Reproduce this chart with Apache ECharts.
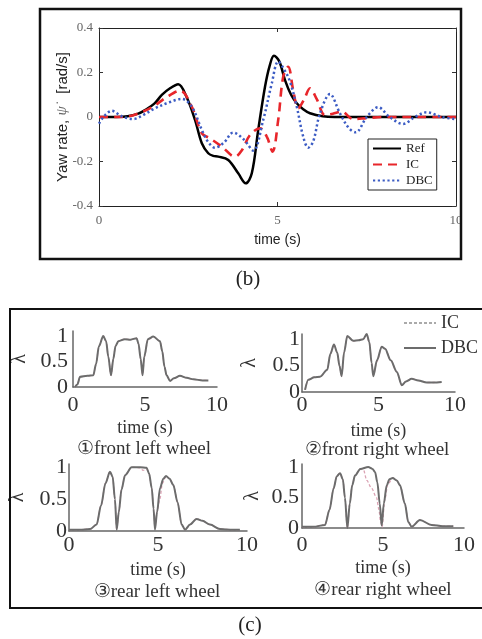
<!DOCTYPE html>
<html>
<head>
<meta charset="utf-8">
<script src="https://cdn.jsdelivr.net/npm/echarts@6/dist/echarts.min.js"></script>
<style>
html,body{margin:0;padding:0;background:#fff;}
#c{width:482px;height:639px;}
</style>
</head>
<body>
<div id="c"></div>
<script>
// ---------- (b) yaw rate ----------
const refT = [0, 0.5, 0.8, 1.1, 1.29, 1.55, 1.76, 2.0, 2.22, 2.45, 2.69, 2.88, 3.06, 3.2, 3.34, 3.62, 3.9, 4.11, 4.28, 4.46, 4.65, 4.78, 4.9, 5.05, 5.21, 5.38, 5.54, 5.72, 5.91, 6.27, 6.6, 7, 8, 9, 10];
const refV = [0, 0, 0.003, 0.015, 0.031, 0.06, 0.099, 0.13, 0.147, 0.091, -0.013, -0.118, -0.163, -0.175, -0.178, -0.193, -0.253, -0.298, -0.253, -0.058, 0.136, 0.23, 0.275, 0.25, 0.166, 0.1, 0.062, 0.035, 0.017, 0.003, 0, 0, 0, 0, 0];
const icT = [0, 0.5, 0.8, 1.1, 1.5, 1.9, 2.27, 2.6, 2.88, 3.11, 3.44, 3.81, 4.0, 4.23, 4.51, 4.70, 4.86, 5.02, 5.16, 5.3, 5.44, 5.58, 5.75, 5.91, 6.1, 6.33, 6.55, 6.8, 7.12, 7.5, 8, 9, 10];
const icV = [0, 0, 0.002, 0.016, 0.045, 0.09, 0.118, 0.046, -0.073, -0.096, -0.133, -0.178, -0.15, -0.081, -0.051, -0.088, -0.156, -0.013, 0.181, 0.226, 0.12, 0.039, 0.08, 0.129, 0.08, 0.009, 0.015, 0.024, -0.009, -0.005, 0, 0, 0];
const dbcT = [0, 0.15, 0.36, 0.55, 0.68, 0.96, 1.25, 1.57, 1.95, 2.32, 2.6, 2.88, 3.05, 3.25, 3.5, 3.76, 4.05, 4.32, 4.6, 4.84, 5.02, 5.2, 5.35, 5.54, 5.72, 5.86, 6.0, 6.19, 6.47, 6.75, 7.0, 7.19, 7.5, 7.82, 8.14, 8.52, 8.85, 9.18, 9.6, 10];
const dbcV = [-0.03, 0.005, 0.028, 0.012, 0, -0.009, 0.01, 0.039, 0.065, 0.081, 0.046, -0.058, -0.11, -0.138, -0.115, -0.07, -0.1, -0.151, -0.013, 0.151, 0.249, 0.21, 0.159, 0.046, -0.088, -0.138, -0.11, 0.016, 0.103, 0.016, -0.05, -0.069, 0, 0.044, 0, -0.031, 0, 0.021, 0, -0.01];
const yawTicks = [-0.4, -0.2, 0, 0.2, 0.4];
const timeTicks = [0, 5, 10];

// ---------- (c) wheel slip ----------
const w1T = [0.14, 0.3, 0.49, 1.0, 1.41, 1.6, 1.8, 2.1, 2.3, 2.45, 2.64, 2.8, 2.95, 3.15, 3.6, 4.0, 4.42, 4.55, 4.7, 4.83, 4.95, 5.2, 5.58, 6.04, 6.2, 6.35, 6.5, 6.74, 7.0, 7.43, 7.9, 8.36, 9.0, 9.4];
const w1Dbc = [0, 0.05, 0.2, 0.22, 0.23, 0.45, 0.8, 1.0, 0.9, 0.6, 0.23, 0.55, 0.8, 0.9, 0.94, 0.93, 0.96, 0.85, 0.55, 0.23, 0.6, 0.94, 0.99, 0.9, 0.7, 0.4, 0.23, 0.12, 0.17, 0.22, 0.18, 0.15, 0.13, 0.13];
const w1Ic = [0, 0.05, 0.2, 0.22, 0.23, 0.45, 0.8, 1.0, 0.9, 0.6, 0.23, 0.55, 0.8, 0.9, 0.94, 0.93, 0.96, 0.85, 0.55, 0.24, 0.58, 0.93, 0.99, 0.9, 0.7, 0.4, 0.23, 0.12, 0.17, 0.22, 0.18, 0.15, 0.13, 0.13];
const w2T = [0.2, 0.41, 0.8, 1.18, 1.65, 1.85, 2.09, 2.3, 2.45, 2.59, 2.75, 2.96, 3.35, 3.7, 4.0, 4.23, 4.4, 4.55, 4.66, 4.9, 5.21, 5.43, 5.8, 6.2, 6.52, 6.8, 7.17, 7.6, 8.15, 8.6, 9.13];
const w2Dbc = [0.04, 0.23, 0.28, 0.29, 0.42, 0.72, 0.9, 0.75, 0.5, 0.3, 0.75, 1.06, 0.97, 0.98, 1.0, 1.1, 0.95, 0.55, 0.3, 0.6, 0.86, 0.82, 0.6, 0.38, 0.13, 0.2, 0.25, 0.22, 0.18, 0.18, 0.19];
const w2Ic = [0.04, 0.23, 0.28, 0.29, 0.42, 0.72, 0.9, 0.75, 0.5, 0.3, 0.75, 1.06, 0.97, 0.98, 1.0, 1.08, 0.93, 0.55, 0.32, 0.58, 0.86, 0.82, 0.6, 0.38, 0.13, 0.2, 0.25, 0.22, 0.18, 0.18, 0.19];
const w3T = [0, 0.6, 1.18, 1.55, 1.8, 2.05, 2.3, 2.45, 2.58, 2.68, 2.8, 2.95, 3.15, 3.52, 4.0, 4.36, 4.5, 4.65, 4.75, 4.83, 4.95, 5.11, 5.3, 5.45, 5.65, 5.86, 6.1, 6.33, 6.52, 6.8, 7.17, 7.5, 7.92, 8.48, 9.2, 9.6];
const w3Dbc = [0.02, 0.02, 0.03, 0.1, 0.4, 0.75, 0.93, 0.85, 0.5, 0.02, 0.3, 0.65, 0.875, 1.0, 1.0, 0.99, 0.9, 0.67, 0.35, 0.02, 0.3, 0.67, 0.82, 0.86, 0.82, 0.72, 0.45, 0.1, 0.02, 0.1, 0.19, 0.16, 0.1, 0.03, 0.02, 0.02];
const w3IcT = [0, 0.6, 1.18, 1.55, 1.8, 2.05, 2.3, 2.45, 2.58, 2.68, 2.8, 2.95, 3.15, 3.52, 4.0, 4.16, 4.36, 4.5, 4.65, 4.75, 4.83, 4.95, 5.1, 5.25, 5.45, 5.65, 5.86, 6.1, 6.33, 6.52, 6.8, 7.17, 7.5, 7.92, 8.48, 9.2, 9.6];
const w3Ic = [0.02, 0.02, 0.03, 0.1, 0.4, 0.75, 0.93, 0.85, 0.5, 0.02, 0.3, 0.65, 0.875, 1.0, 0.99, 0.95, 0.97, 0.9, 0.67, 0.35, 0.05, 0.3, 0.5, 0.75, 0.86, 0.82, 0.72, 0.45, 0.1, 0.02, 0.1, 0.19, 0.16, 0.1, 0.03, 0.02, 0.02];
const w4T = [0, 0.7, 1.42, 1.7, 1.95, 2.15, 2.35, 2.52, 2.65, 2.8, 2.95, 3.1, 3.27, 3.6, 4.09, 4.35, 4.51, 4.65, 4.8, 4.92, 5.05, 5.23, 5.4, 5.6, 5.85, 6.05, 6.35, 6.56, 6.77, 7.28, 8.0, 8.7, 9.34];
const w4Dbc = [0.02, 0.02, 0.05, 0.3, 0.65, 0.85, 0.9, 0.8, 0.5, 0.0, 0.4, 0.7, 0.86, 0.97, 1.0, 0.97, 0.92, 0.75, 0.4, 0.04, 0.4, 0.7, 0.8, 0.82, 0.78, 0.7, 0.4, 0.1, 0.02, 0.13, 0.05, 0.03, 0.03];
const w4IcT = [0, 0.7, 1.42, 1.7, 1.95, 2.15, 2.35, 2.52, 2.65, 2.8, 2.95, 3.1, 3.27, 3.6, 3.8, 4.0, 4.3, 4.6, 4.75, 4.85, 4.95, 5.1, 5.3, 5.6, 5.85, 6.05, 6.35, 6.56, 6.77, 7.28, 8.0, 8.7, 9.34];
const w4Ic = [0.02, 0.02, 0.05, 0.3, 0.65, 0.85, 0.9, 0.8, 0.5, 0.0, 0.4, 0.7, 0.86, 0.97, 0.95, 0.78, 0.65, 0.5, 0.3, 0.1, 0.02, 0.45, 0.72, 0.82, 0.78, 0.7, 0.4, 0.1, 0.02, 0.13, 0.05, 0.03, 0.03];
const slipTicks = [0, 0.5, 1];

const zip = (ts, vs) => ts.map((t, i) => [t, vs[i]]);

const SERIF = '"Liberation Serif", "Times New Roman", serif';
const SANS = '"Liberation Sans", Arial, sans-serif';

const chart = echarts.init(document.getElementById('c'), null, {renderer: 'canvas'});

const mainTick = {show: true, inside: true, length: 4, lineStyle: {color: '#333', width: 1}};
const mainLine = {show: true, onZero: false, lineStyle: {color: '#222', width: 1}};
const mainLabel = {fontFamily: SERIF, fontSize: 13, color: '#666'};

const xAxes = [
  {gridIndex: 0, type: 'value', min: 0, max: 10, interval: 5, position: 'bottom',
   axisLine: mainLine, axisTick: mainTick, splitLine: {show: false},
   axisLabel: Object.assign({margin: 8, formatter: v => timeTicks.includes(v) ? String(v) : ''}, mainLabel),
   name: 'time (s)', nameLocation: 'middle', nameGap: 27, nameMoveOverlap: false,
   nameTextStyle: {fontFamily: SANS, fontSize: 14, color: '#222'}},
  {gridIndex: 0, type: 'value', min: 0, max: 10, interval: 5, position: 'top',
   axisLine: mainLine, axisTick: mainTick, splitLine: {show: false}, axisLabel: {show: false}}
];
const yAxes = [
  {gridIndex: 0, type: 'value', min: -0.4, max: 0.4, interval: 0.2, position: 'left',
   axisLine: mainLine, axisTick: mainTick, splitLine: {show: false},
   axisLabel: Object.assign({margin: 6, formatter: v => {
     const t = yawTicks.find(k => Math.abs(k - v) < 1e-9);
     return t === undefined ? '' : String(t);
   }}, mainLabel),
   name: '{s|Yaw rate, }{p|ψ̇}{s|   [rad/s]}', nameLocation: 'middle', nameGap: 29, nameMoveOverlap: false,
   nameTextStyle: {rich: {
     s: {fontFamily: SANS, fontSize: 15, color: '#222'},
     p: {fontFamily: SERIF, fontStyle: 'italic', fontSize: 15, color: '#666'}
   }}},
  {gridIndex: 0, type: 'value', min: -0.4, max: 0.4, interval: 0.2, position: 'right',
   axisLine: mainLine, axisTick: mainTick, splitLine: {show: false}, axisLabel: {show: false}}
];

const grids = [
  {left: 99, top: 28, width: 357, height: 178},
  {left: 73, top: 331, width: 144, height: 56},
  {left: 302, top: 334, width: 153, height: 58},
  {left: 69, top: 464, width: 178, height: 67},
  {left: 302, top: 464, width: 162, height: 64}
];
const subCfg = [
  {ymax: 1.1, xMargin: 7, yMargin: 5, xGap: 32, lGap: 43},
  {ymax: 1.1, xMargin: 2, yMargin: 2, xGap: 30, lGap: 42},
  {ymax: 1.05, xMargin: 3, yMargin: 2, xGap: 30, lGap: 41},
  {ymax: 1.05, xMargin: 6, yMargin: 3, xGap: 31, lGap: 39}
];
const subLine = {show: true, onZero: false, lineStyle: {color: '#666', width: 1.5}};
const subLabel = {fontFamily: SERIF, fontSize: 22, color: '#333'};
subCfg.forEach((c, i) => {
  const g = i + 1;
  xAxes.push({gridIndex: g, type: 'value', min: 0, max: 10, interval: 5,
    axisLine: subLine, axisTick: {show: false}, splitLine: {show: false},
    axisLabel: Object.assign({margin: c.xMargin, formatter: v => timeTicks.includes(v) ? String(v) : ''}, subLabel),
    name: 'time (s)', nameLocation: 'middle', nameGap: c.xGap, nameMoveOverlap: false,
    nameTextStyle: {fontFamily: SERIF, fontSize: 18, color: '#333'}});
  yAxes.push({gridIndex: g, type: 'value', min: 0, max: c.ymax, interval: 0.5,
    axisLine: subLine, axisTick: {show: false}, splitLine: {show: false},
    axisLabel: Object.assign({margin: c.yMargin, formatter: v => {
      const t = slipTicks.find(k => Math.abs(k - v) < 1e-9);
      return t === undefined ? '' : String(t);
    }}, subLabel),
    name: 'λ', nameLocation: 'middle', nameGap: c.lGap, nameMoveOverlap: false,
    nameTextStyle: {fontFamily: SERIF, fontSize: 20, color: '#333'}});
});

const series = [
  {name: 'Ref', type: 'line', xAxisIndex: 0, yAxisIndex: 0, data: zip(refT, refV),
   smooth: 0.35, symbol: 'none', lineStyle: {color: '#000', width: 2.5}, itemStyle: {color: '#000'}},
  {name: 'IC', type: 'line', xAxisIndex: 0, yAxisIndex: 0, data: zip(icT, icV),
   smooth: 0.35, symbol: 'none', lineStyle: {color: '#e8262b', width: 2.6, type: [9, 6]}, itemStyle: {color: '#e8262b'}},
  {name: 'DBC', type: 'line', xAxisIndex: 0, yAxisIndex: 0, data: zip(dbcT, dbcV),
   smooth: 0.35, symbol: 'none', lineStyle: {color: '#3c5cc4', width: 2.5, type: [2.2, 2.6]}, itemStyle: {color: '#3c5cc4'}}
];
const wheels = [
  [w1T, w1Ic, w1T, w1Dbc],
  [w2T, w2Ic, w2T, w2Dbc],
  [w3IcT, w3Ic, w3T, w3Dbc],
  [w4IcT, w4Ic, w4T, w4Dbc]
];
wheels.forEach((w, i) => {
  series.push({name: 'IC_s', type: 'line', xAxisIndex: i + 2, yAxisIndex: i + 2, data: zip(w[0], w[1]),
    smooth: 0.3, smoothMonotone: 'x', symbol: 'none', lineStyle: {color: '#dba3b4', width: 1.3, type: [3, 2]}, itemStyle: {color: '#dba3b4'}});
  series.push({name: 'DBC_s', type: 'line', xAxisIndex: i + 2, yAxisIndex: i + 2, data: zip(w[2], w[3]),
    smooth: 0.3, smoothMonotone: 'x', symbol: 'none', lineStyle: {color: '#6c6c6c', width: 2}, itemStyle: {color: '#6c6c6c'}});
});

const captions = [
  ['①front left wheel', 144, 449],
  ['②front right wheel', 377, 450],
  ['③rear left wheel', 157, 592],
  ['④rear right wheel', 383, 590]
];

const graphic = [
  {type: 'rect', z: 99, shape: {x: 462.5, y: 0, width: 30, height: 300}, style: {fill: '#fff'}},
  {type: 'rect', z: 100, shape: {x: 40, y: 9, width: 421, height: 250}, style: {fill: 'transparent', stroke: '#111', lineWidth: 2.5}},
  {type: 'rect', z: 100, shape: {x: 10, y: 309, width: 490, height: 299}, style: {fill: 'transparent', stroke: '#111', lineWidth: 2}},
  {type: 'text', z: 100, x: 248, y: 279, style: {text: '(b)', align: 'center', verticalAlign: 'middle', font: '21px ' + SERIF, fill: '#222'}},
  {type: 'text', z: 100, x: 250, y: 625, style: {text: '(c)', align: 'center', verticalAlign: 'middle', font: '21px ' + SERIF, fill: '#222'}}
];
captions.forEach(c => graphic.push({type: 'text', z: 100, x: c[1], y: c[2],
  style: {text: c[0], align: 'center', verticalAlign: 'middle', font: '19px ' + SERIF, fill: '#333'}}));

chart.setOption({
  animation: false,
  backgroundColor: '#fff',
  grid: grids,
  xAxis: xAxes,
  yAxis: yAxes,
  legend: [
    {data: ['Ref', 'IC', 'DBC'], orient: 'vertical', left: 368, top: 139,
     padding: [3, 4, 3, 4], itemWidth: 28, itemHeight: 12, itemGap: 3,
     borderColor: '#222', borderWidth: 1, backgroundColor: '#fff',
     itemStyle: {opacity: 0},
     textStyle: {fontFamily: SERIF, fontSize: 13, color: '#222', lineHeight: 12}},
    {data: [{name: 'IC_s', lineStyle: {color: '#aaa'}}, {name: 'DBC_s'}],
     orient: 'vertical', left: 403, top: 314, padding: 0,
     itemWidth: 32, itemHeight: 14, itemGap: 7,
     itemStyle: {opacity: 0},
     formatter: n => n.split('_')[0],
     textStyle: {fontFamily: SERIF, fontSize: 18, color: '#333', lineHeight: 18}}
  ],
  series: series,
  graphic: graphic
});
</script>
</body>
</html>
